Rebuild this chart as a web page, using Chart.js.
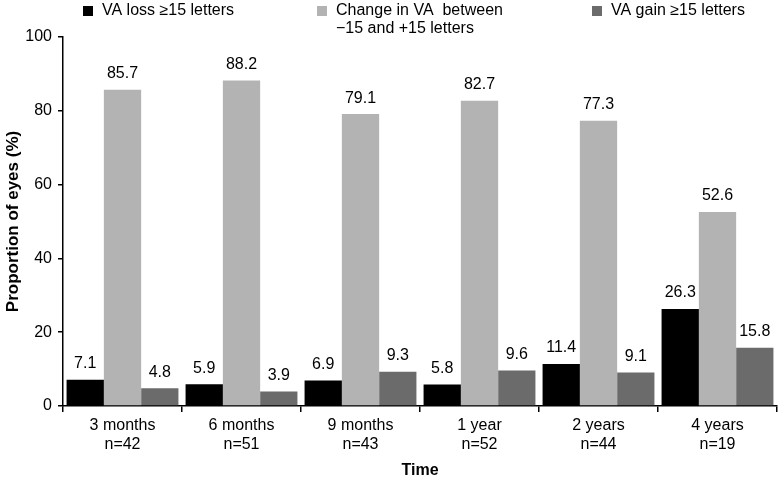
<!DOCTYPE html>
<html>
<head>
<meta charset="utf-8">
<script src="https://cdn.jsdelivr.net/npm/chart.js@4"></script>
<style>
  html, body { margin: 0; padding: 0; background: #fff; }
  #wrap { width: 780px; height: 480px; }
</style>
</head>
<body>
<div id="wrap"><canvas id="myChart" width="780" height="480"></canvas></div>
<script>
  'use strict'

  const categories = [
    ['3 months', 'n=42'],
    ['6 months', 'n=51'],
    ['9 months', 'n=43'],
    ['1 year', 'n=52'],
    ['2 years', 'n=44'],
    ['4 years', 'n=19']
  ]
  const vaLoss = [7.1, 5.9, 6.9, 5.8, 11.4, 26.3]
  const vaStable = [85.7, 88.2, 79.1, 82.7, 77.3, 52.6]
  const vaGain = [4.8, 3.9, 9.3, 9.6, 9.1, 15.8]
  const yTicks = [0, 20, 40, 60, 80, 100]

  const fontFamily = '"Liberation Sans", Arial, sans-serif'

  // legend drawn by hand: middle label wraps onto two lines
  const legendItems = [
    { lines: ['VA loss \u226515 letters'], color: '#000000', x: 83 },
    { lines: ['Change in VA  between', '\u221215 and +15 letters'], color: '#b3b3b3', x: 317 },
    { lines: ['VA gain \u226515 letters'], color: '#6b6b6b', x: 592 }
  ]

  const topLegend = {
    id: 'topLegend',
    afterDraw(chart) {
      const c = chart.ctx
      c.save()
      c.font = '16px ' + fontFamily
      c.textBaseline = 'middle'
      c.textAlign = 'left'
      legendItems.forEach(it => {
        c.fillStyle = it.color
        c.fillRect(it.x, 6, 10, 10)
        c.fillStyle = '#000'
        it.lines.forEach((t, i) => c.fillText(t, it.x + 19, 11 + i * 18))
      })
      c.restore()
    }
  }

  const barLabels = {
    id: 'barLabels',
    afterDatasetsDraw(chart) {
      const c = chart.ctx
      c.save()
      c.font = '16px ' + fontFamily
      c.fillStyle = '#000'
      c.textAlign = 'center'
      c.textBaseline = 'bottom'
      chart.data.datasets.forEach((ds, i) => {
        chart.getDatasetMeta(i).data.forEach((bar, j) => {
          c.fillText(ds.data[j].toFixed(1), bar.x, bar.y - 8)
        })
      })
      c.restore()
    }
  }

  const ctx = document.getElementById('myChart')
  // eslint-disable-next-line no-unused-vars
  const myChart = new Chart(ctx, {
    type: 'bar',
    data: {
      labels: categories,
      datasets: [
        { label: 'VA loss \u226515 letters', data: vaLoss, backgroundColor: '#000000' },
        { label: 'Change in VA between \u221215 and +15 letters', data: vaStable, backgroundColor: '#b3b3b3' },
        { label: 'VA gain \u226515 letters', data: vaGain, backgroundColor: '#6b6b6b' }
      ]
    },
    options: {
      responsive: false,
      animation: false,
      devicePixelRatio: 1,
      datasets: {
        bar: { categoryPercentage: 0.94, barPercentage: 1.0 }
      },
      layout: { padding: { top: 37, right: 3, left: 0, bottom: 0 } },
      plugins: {
        legend: { display: false },
        tooltip: { enabled: false }
      },
      scales: {
        x: {
          grid: {
            display: true,
            offset: true,
            drawOnChartArea: false,
            drawTicks: true,
            tickLength: 6,
            color: '#000',
            lineWidth: 1.5
          },
          border: { display: true, color: '#000', width: 1.5 },
          ticks: {
            color: '#000',
            font: { family: fontFamily, size: 16 },
            padding: 4
          },
          title: {
            display: true,
            text: 'Time',
            color: '#000',
            font: { family: fontFamily, size: 16, weight: 'bold' },
            padding: { top: 4, bottom: 0 }
          },
          afterFit(scale) { scale.height = 74 }
        },
        y: {
          min: 0,
          max: 100,
          afterBuildTicks(scale) {
            scale.ticks = yTicks.map(v => ({ value: v }))
          },
          grid: {
            display: true,
            drawOnChartArea: false,
            drawTicks: true,
            tickLength: 5,
            color: '#000',
            lineWidth: 1.5
          },
          border: { display: true, color: '#000', width: 1.5 },
          ticks: {
            color: '#000',
            font: { family: fontFamily, size: 16 },
            padding: 6
          },
          title: {
            display: true,
            text: 'Proportion of eyes (%)',
            color: '#000',
            font: { family: fontFamily, size: 17, weight: 'bold' },
            padding: { top: 3, bottom: 0 }
          },
          afterFit(scale) { scale.width = 63 }
        }
      }
    },
    plugins: [topLegend, barLabels]
  })
</script>
</body>
</html>
